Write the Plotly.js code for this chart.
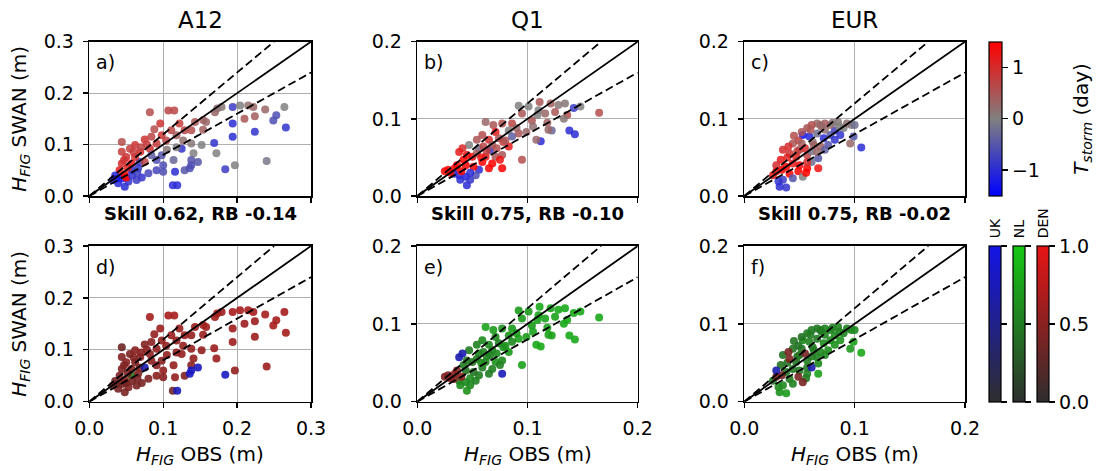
<!DOCTYPE html>
<html><head><meta charset="utf-8">
<script src="https://cdn.plot.ly/plotly-3.0.1.min.js"></script>
<style>body{margin:0;background:#fff}#chart{width:1099px;height:471px}</style>
</head><body><div id="chart"></div>
<script>
// ---------------- DATA ----------------
const stationNames = ['A12', 'Q1', 'EUR'];
const panelLabels = ['a)', 'b)', 'c)', 'd)', 'e)', 'f)'];
const skillTexts = ['Skill 0.62, RB -0.14', 'Skill 0.75, RB -0.10', 'Skill 0.75, RB -0.02'];
const axisLimits = [0.3, 0.2, 0.2];
const refSlopes = [1, 1.2, 0.8];
const sourceNames = ['NL', 'DEN', 'UK'];

// A12
const a12_x = [0.082,0.107,0.115,0.096,0.122,0.129,0.138,0.143,0.154,0.170,
  0.173,0.179,0.194,0.204,0.215,0.222,0.210,0.224,0.238,0.253,
  0.249,0.264,0.266,0.224,0.194,0.194,0.197,0.240,0.184,0.169,
  0.152,0.141,0.125,0.114,0.138,0.129,0.116,0.100,0.100,0.113,
  0.119,0.091,0.080,0.071,0.064,0.048,0.039,0.053,0.044,0.037,
  0.048,0.041,0.044,0.050,0.044,0.044,0.055,0.062,0.069,0.075,
  0.082,0.091,0.084,0.098,0.104,0.111,0.118,0.127,0.118,0.098,
  0.091,0.084,0.068,0.062,0.057,0.075,0.066,0.057,0.050,0.032,
  0.154,0.158,0.138,0.172,0.136,0.138,0.147,
  0.052,0.047,0.060,0.035,0.058,0.070,0.065,0.078,0.088,0.105];
const a12_y = [0.163,0.166,0.166,0.141,0.141,0.128,0.128,0.144,0.148,0.163,
  0.170,0.173,0.173,0.176,0.176,0.173,0.150,0.155,0.168,0.157,
  0.147,0.173,0.133,0.125,0.141,0.115,0.060,0.068,0.052,0.103,
  0.099,0.083,0.092,0.070,0.070,0.050,0.047,0.060,0.047,0.021,
  0.021,0.050,0.044,0.036,0.031,0.018,0.025,0.028,0.034,0.034,
  0.041,0.050,0.063,0.076,0.086,0.105,0.092,0.099,0.086,0.110,
  0.092,0.102,0.115,0.118,0.108,0.128,0.118,0.108,0.095,0.079,
  0.070,0.079,0.066,0.076,0.063,0.066,0.054,0.050,0.036,0.031,
  0.129,0.144,0.102,0.083,0.054,0.060,0.066,
  0.055,0.070,0.085,0.040,0.040,0.095,0.045,0.100,0.130,0.090];
const a12_T = [0.6,0.7,0.7,0.9,0.8,0.7,0.6,0.5,0.4,0.3,
  0.2,0.1,-0.8,0.0,0.2,0.3,0.5,0.4,0.3,-0.6,
  -0.6,0.0,-0.9,-0.9,-1.0,-1.0,0.0,-0.1,-0.8,-0.9,
  0.0,0.0,-0.9,-0.3,-0.5,-0.5,-1.0,-0.6,-0.6,-1.0,
  -1.0,-0.7,-0.7,-0.9,-0.8,-1.0,-1.0,-0.9,-1.2,-1.3,
  1.5,1.2,1.0,0.9,0.8,0.6,0.8,0.9,1.0,0.9,
  0.9,0.8,0.7,0.9,0.7,0.7,0.4,0.2,0.0,-0.5,
  -0.6,-0.4,-0.8,1.0,1.2,0.7,-0.9,-1.0,1.5,-1.0,
  0.4,0.3,0.1,0.0,-0.6,-0.6,-0.5,
  1.1,0.9,0.8,-1.1,-0.9,0.7,-0.8,0.8,0.6,0.1];
const a12_src = ['DEN','DEN','DEN','DEN','DEN','DEN','DEN','DEN','DEN','DEN',
  'DEN','DEN','DEN','DEN','DEN','DEN','DEN','DEN','DEN','DEN',
  'DEN','DEN','DEN','DEN','DEN','DEN','DEN','DEN','UK','DEN',
  'DEN','DEN','DEN','DEN','DEN','DEN','DEN','DEN','DEN','DEN',
  'UK','DEN','DEN','DEN','DEN','DEN','DEN','DEN','DEN','DEN',
  'DEN','DEN','DEN','DEN','DEN','DEN','DEN','DEN','DEN','DEN',
  'DEN','DEN','DEN','DEN','DEN','DEN','DEN','DEN','DEN','DEN',
  'DEN','DEN','DEN','DEN','DEN','UK','DEN','NL','DEN','DEN',
  'DEN','DEN','DEN','DEN','UK','UK','UK',
  'DEN','DEN','DEN','DEN','DEN','DEN','DEN','DEN','DEN','DEN'];
const a12_w = [0.65,0.65,0.65,0.6,0.6,0.6,0.55,0.6,0.65,0.65,
  0.65,0.6,0.65,0.65,0.65,0.65,0.6,0.6,0.65,0.65,
  0.65,0.65,0.65,0.6,0.6,0.6,0.55,0.6,0.8,0.6,
  0.55,0.55,0.55,0.55,0.5,0.45,0.55,0.55,0.5,0.35,
  0.75,0.5,0.45,0.4,0.4,0.4,0.4,0.45,0.4,0.35,
  0.5,0.45,0.45,0.5,0.45,0.35,0.45,0.5,0.5,0.45,
  0.5,0.55,0.5,0.55,0.55,0.6,0.55,0.55,0.55,0.5,
  0.5,0.5,0.45,0.45,0.45,0.7,0.45,0.5,0.4,0.4,
  0.6,0.6,0.55,0.6,0.8,0.8,0.8,
  0.4,0.45,0.45,0.35,0.4,0.5,0.4,0.5,0.55,0.55];

// Q1
const q1_x = [0.165,0.143,0.138,0.112,0.108,0.122,0.119,0.136,0.148,0.142,
  0.128,0.121,0.111,0.110,0.116,0.104,0.101,0.092,0.095,0.086,
  0.092,0.099,0.077,0.069,0.062,0.071,0.074,0.083,0.078,0.095,
  0.059,0.065,0.054,0.047,0.041,0.038,0.045,0.056,0.066,0.062,
  0.071,0.077,0.075,0.059,0.068,0.077,0.065,0.056,0.051,0.044,
  0.034,0.028,0.025,0.033,0.038,0.044,0.039,0.045,0.048,0.053,
  0.042,0.050,0.054,0.083,0.090,0.133,0.125,0.109,0.134,0.068,0.086,0.060,
  0.036,0.040,0.048,0.030,0.058,0.063,0.072,0.080,0.105,0.118];
const q1_y = [0.108,0.080,0.085,0.071,0.073,0.085,0.086,0.105,0.116,0.114,
  0.118,0.120,0.122,0.111,0.107,0.098,0.116,0.117,0.107,0.094,
  0.081,0.083,0.094,0.092,0.096,0.083,0.075,0.064,0.070,0.047,
  0.079,0.073,0.073,0.066,0.062,0.057,0.053,0.062,0.060,0.051,
  0.051,0.053,0.047,0.044,0.042,0.036,0.036,0.034,0.038,0.040,
  0.036,0.034,0.032,0.029,0.027,0.025,0.021,0.014,0.021,0.027,
  0.047,0.051,0.055,0.085,0.088,0.100,0.109,0.105,0.120,0.066,0.077,0.064,
  0.040,0.032,0.030,0.030,0.050,0.058,0.062,0.072,0.090,0.095];
const q1_T = [0.6,-1.0,-1.0,-1.0,0.3,-0.3,0.3,0.6,0.0,-0.8,
  0.1,0.4,0.5,0.0,0.3,0.5,0.0,0.0,0.5,0.7,
  0.5,0.3,0.6,0.5,0.3,1.2,0.5,1.2,0.8,0.6,
  0.6,1.0,0.5,0.0,1.0,1.2,1.3,-0.2,-0.9,1.2,
  0.5,0.5,1.3,1.5,1.5,1.5,1.5,-1.0,1.5,1.5,
  1.4,1.3,1.5,-1.0,-1.0,-1.1,-1.0,-1.0,-0.9,-0.6,
  1.5,1.4,0.4,0.0,0.3,0.1,0.5,0.0,0.1,0.4,-0.4,0.7,
  1.5,1.5,-1.0,1.4,1.3,0.8,0.6,0.5,0.2,0.4];
const q1_src = ['NL','NL','NL','NL','NL','NL','NL','NL','NL','NL',
  'NL','NL','NL','NL','NL','NL','NL','NL','NL','NL',
  'NL','NL','NL','NL','NL','NL','NL','NL','NL','NL',
  'NL','NL','NL','NL','UK','UK','NL','NL','NL','NL',
  'NL','NL','NL','NL','NL','UK','NL','NL','NL','NL',
  'DEN','DEN','DEN','DEN','NL','NL','NL','NL','NL','NL',
  'NL','NL','NL','NL','NL','NL','NL','NL','NL','NL','NL','NL',
  'DEN','DEN','NL','DEN','NL','NL','NL','NL','NL','NL'];
const q1_w = [0.8,0.8,0.8,0.8,0.8,0.75,0.75,0.8,0.8,0.8,
  0.8,0.75,0.8,0.75,0.75,0.7,0.7,0.7,0.7,0.7,
  0.75,0.7,0.65,0.7,0.75,0.6,0.55,0.7,0.65,0.75,
  0.6,0.6,0.55,0.5,0.7,0.7,0.5,0.55,0.5,0.6,
  0.65,0.6,0.55,0.5,0.55,0.75,0.5,0.5,0.45,0.45,
  0.5,0.5,0.45,0.5,0.55,0.6,0.6,0.65,0.6,0.55,
  0.5,0.5,0.5,0.65,0.7,0.8,0.75,0.75,0.8,0.55,0.6,0.55,
  0.5,0.5,0.6,0.5,0.6,0.55,0.6,0.65,0.75,0.75];

// EUR
const eur_x = [0.106,0.099,0.096,0.097,0.090,0.085,0.082,0.078,0.073,0.069,
  0.066,0.061,0.057,0.053,0.059,0.066,0.072,0.078,0.082,0.076,
  0.069,0.062,0.049,0.044,0.040,0.035,0.041,0.050,0.057,0.067,
  0.061,0.067,0.057,0.050,0.044,0.038,0.034,0.029,0.026,0.041,
  0.049,0.053,0.044,0.035,0.031,0.032,0.038,0.073,0.087,0.093,
  0.100,0.052,0.055,0.061,0.047,0.033,0.029,0.073,0.066,0.057,
  0.045,0.052,0.039,0.060,0.070,0.080,0.086,0.056,0.048,0.063];
const eur_y = [0.063,0.077,0.068,0.092,0.088,0.096,0.085,0.092,0.094,0.092,
  0.094,0.092,0.088,0.079,0.077,0.081,0.075,0.079,0.073,0.066,
  0.064,0.070,0.072,0.068,0.064,0.060,0.055,0.060,0.053,0.049,
  0.044,0.036,0.036,0.040,0.042,0.038,0.034,0.032,0.027,0.029,
  0.032,0.025,0.023,0.021,0.019,0.012,0.011,0.086,0.079,0.094,
  0.092,0.068,0.062,0.058,0.051,0.047,0.040,0.060,0.057,0.044,
  0.078,0.083,0.050,0.086,0.090,0.095,0.090,0.030,0.058,0.066];
const eur_T = [-1.0,-0.5,0.3,0.0,0.0,0.1,-0.8,0.3,0.4,0.2,
  0.3,0.6,0.5,-1.3,-1.1,-0.2,-1.0,-0.5,-0.9,-0.5,
  0.4,0.1,0.7,0.5,1.0,1.0,0.9,0.5,0.7,-0.5,
  -0.2,1.3,1.5,1.4,1.2,1.5,1.5,1.3,1.2,1.5,
  1.5,0.0,-0.5,-0.8,-0.9,-1.0,-0.9,0.2,-0.9,0.2,
  -0.2,0.4,1.0,-0.1,1.1,1.2,1.0,-0.4,0.3,1.0,
  0.6,0.5,1.1,0.5,0.3,0.1,0.0,1.5,0.8,0.4];
const eur_src = ['NL','NL','NL','NL','NL','NL','NL','NL','NL','NL',
  'NL','NL','NL','NL','NL','NL','NL','NL','NL','NL',
  'NL','NL','NL','NL','DEN','NL','DEN','NL','NL','NL',
  'UK','NL','NL','NL','NL','NL','DEN','DEN','NL','NL',
  'DEN','DEN','NL','NL','NL','NL','NL','NL','NL','NL',
  'NL','NL','DEN','NL','NL','NL','UK','NL','NL','NL',
  'NL','NL','NL','NL','NL','NL','NL','NL','NL','NL'];
const eur_w = [0.8,0.75,0.7,0.6,0.55,0.55,0.6,0.55,0.55,0.5,
  0.5,0.5,0.5,0.6,0.55,0.5,0.6,0.6,0.65,0.6,
  0.6,0.5,0.45,0.45,0.4,0.45,0.45,0.5,0.5,0.6,
  0.7,0.75,0.55,0.5,0.45,0.45,0.4,0.4,0.45,0.5,
  0.4,0.4,0.55,0.6,0.6,0.65,0.7,0.55,0.65,0.55,
  0.6,0.45,0.4,0.5,0.45,0.45,0.7,0.6,0.55,0.5,
  0.45,0.45,0.45,0.5,0.5,0.55,0.55,0.5,0.45,0.5];

// ---------------- STYLE ----------------
const FONT = 'DejaVu Sans, sans-serif';
const TICK = 19, LAB = 20;
const stations = [
  {x: a12_x, y: a12_y, T: a12_T, src: a12_src, w: a12_w},
  {x: q1_x, y: q1_y, T: q1_T, src: q1_src, w: q1_w},
  {x: eur_x, y: eur_y, T: eur_T, src: eur_src, w: eur_w}
];
const tScale = [[0, '#0000ff'], [0.5, '#808080'], [1, '#ff0000']];
const srcScales = {
  UK: [[0, '#2e2e2e'], [1, '#1414e6']],
  NL: [[0, '#2e2e2e'], [1, '#14c814']],
  DEN: [[0, '#2e2e2e'], [1, '#e61414']]
};
const W = 1099, H = 471;
const xDom = [[89.3, 311], [417.3, 637.7], [744.3, 965]];
const yDom = [[41.7, 196], [246, 401.7]];
const cbX = {UK: 989.3, NL: 1013.3, DEN: 1037.3};

function fx(px) { return px / W; }
function fy(py) { return 1 - py / H; }

const traces = [];
const layout = {
  width: W, height: H, margin: {l: 0, r: 0, t: 0, b: 0},
  paper_bgcolor: '#fff', plot_bgcolor: '#fff', showlegend: false,
  font: {family: FONT, size: TICK, color: '#000'},
  annotations: []
};

function axisId(k) { return k === 0 ? '' : String(k + 1); }

for (let row = 0; row < 2; row++) {
  for (let i = 0; i < 3; i++) {
    const k = row * 3 + i;
    const id = axisId(k);
    const lim = axisLimits[i];
    const tv = [];
    for (let t = 0; t <= lim + 1e-9; t += 0.1) tv.push(Math.round(t * 10) / 10);
    const tt = tv.map(v => v.toFixed(1));
    const common = {
      range: [0, lim], tickvals: tv, ticktext: tt,
      showline: true, mirror: true, linecolor: '#000', linewidth: 1.6,
      ticks: 'outside', ticklen: 5, tickwidth: 1.4, tickcolor: '#000',
      showgrid: true, gridcolor: '#b0b0b0', gridwidth: 1.2, zeroline: false,
      tickfont: {family: FONT, size: TICK, color: '#000'}, fixedrange: true
    };
    layout['xaxis' + id] = Object.assign({}, common, {
      domain: [fx(xDom[i][0]), fx(xDom[i][1])], anchor: 'y' + id,
      showticklabels: row === 1, ticklabelstandoff: 4
    });
    layout['yaxis' + id] = Object.assign({}, common, {
      domain: [fy(yDom[row][1]), fy(yDom[row][0])], anchor: 'x' + id,
      ticklabelstandoff: 5
    });

    const st = stations[i];
    if (row === 0) {
      traces.push({
        type: 'scatter', mode: 'markers', x: st.x, y: st.y,
        xaxis: 'x' + id, yaxis: 'y' + id, hoverinfo: 'skip',
        marker: {
          size: 8, color: st.T, colorscale: tScale, cmin: -1.5, cmax: 1.5,
          opacity: 0.85, line: {width: 0},
          showscale: i === 0,
          colorbar: {
            x: fx(cbX.UK), xanchor: 'left', xpad: 0, ypad: 0,
            y: fy(yDom[0][0]), yanchor: 'top', len: (yDom[0][1] - yDom[0][0]) / H, lenmode: 'fraction',
            thickness: 12.5, thicknessmode: 'pixels', outlinewidth: 1.2, outlinecolor: '#000',
            ticks: 'outside', ticklen: 6, tickwidth: 1.4, tickcolor: '#000',
            tickvals: [-1, 0, 1], ticktext: ['\u22121', '0', '1'],
            tickfont: {family: FONT, size: TICK}
          }
        }
      });
    } else {
      sourceNames.forEach(s => {
        const xs = [], ys = [], ws = [];
        st.src.forEach((v, j) => { if (v === s) { xs.push(st.x[j]); ys.push(st.y[j]); ws.push(st.w[j]); } });
        const showCb = i === 2;
        traces.push({
          type: 'scatter', mode: 'markers', x: xs, y: ys,
          xaxis: 'x' + id, yaxis: 'y' + id, hoverinfo: 'skip',
          marker: {
            size: 8, color: ws, colorscale: srcScales[s], cmin: 0, cmax: 1,
            opacity: 0.9, line: {width: 0},
            showscale: showCb,
            colorbar: {
              x: fx(cbX[s]), xanchor: 'left', xpad: 0, ypad: 0,
              y: fy(yDom[1][0]), yanchor: 'top', len: (yDom[1][1] - yDom[1][0]) / H, lenmode: 'fraction',
              thickness: 12, thicknessmode: 'pixels', outlinewidth: 1.2, outlinecolor: '#000',
              ticks: 'outside', ticklen: 6, tickwidth: 1.4, tickcolor: '#000',
              tickvals: [0, 0.5, 1], ticktext: ['0.0', '0.5', '1.0'],
              showticklabels: s === 'DEN',
              tickfont: {family: FONT, size: TICK}
            }
          }
        });
      });
    }
    // reference lines
    refSlopes.forEach(sl => {
      const xe = Math.min(lim, lim / sl);
      traces.push({
        type: 'scatter', mode: 'lines', x: [0, xe], y: [0, xe * sl],
        xaxis: 'x' + id, yaxis: 'y' + id, hoverinfo: 'skip', cliponaxis: true,
        line: {color: '#000', width: 1.8, dash: sl === 1 ? 'solid' : '8px,4px'}
      });
    });

    // panel label
    layout.annotations.push({
      xref: 'x' + id + ' domain', yref: 'y' + id + ' domain', x: 0.02, y: 0.95,
      xanchor: 'left', yanchor: 'top', showarrow: false, text: panelLabels[k],
      font: {family: FONT, size: TICK}
    });
    if (row === 0) {
      layout.annotations.push({
        xref: 'x' + id + ' domain', yref: 'y' + id + ' domain', x: 0.5, y: 1 + (yDom[0][0] - 20) / (yDom[0][1] - yDom[0][0]),
        xanchor: 'center', yanchor: 'middle', showarrow: false, text: stationNames[i],
        font: {family: FONT, size: 23}
      });
      layout.annotations.push({
        xref: 'x' + id + ' domain', yref: 'y' + id + ' domain', x: 0.5, y: -(213 - yDom[0][1]) / (yDom[0][1] - yDom[0][0]),
        xanchor: 'center', yanchor: 'middle', showarrow: false, text: '<b>' + skillTexts[i] + '</b>',
        font: {family: FONT, size: 18}
      });
    } else {
      layout.annotations.push({
        xref: 'x' + id + ' domain', yref: 'y' + id + ' domain', x: 0.5, y: -(455 - yDom[1][1]) / (yDom[1][1] - yDom[1][0]),
        xanchor: 'center', yanchor: 'middle', showarrow: false, text: '<i>H<sub>FIG</sub></i> OBS (m)',
        font: {family: FONT, size: LAB}
      });
    }
    if (i === 0) {
      layout.annotations.push({
        xref: 'paper', yref: 'y' + id + ' domain', x: fx(20), y: 0.5,
        xanchor: 'center', yanchor: 'middle', showarrow: false, textangle: -90,
        text: '<i>H<sub>FIG</sub></i> SWAN (m)', font: {family: FONT, size: LAB}
      });
    }
  }
}
// colorbar title for T_storm
layout.annotations.push({
  xref: 'paper', yref: 'paper', x: fx(1082), y: fy((yDom[0][0] + yDom[0][1]) / 2),
  xanchor: 'center', yanchor: 'middle', showarrow: false, textangle: -90,
  text: '<i>T<sub>storm</sub></i> (day)', font: {family: FONT, size: LAB}
});
// source labels above the lower colorbars
['UK', 'NL', 'DEN'].forEach(s => {
  layout.annotations.push({
    xref: 'paper', yref: 'paper', x: fx(cbX[s] + 6), y: fy(240),
    xanchor: 'center', yanchor: 'bottom', showarrow: false, textangle: -90,
    text: s, font: {family: FONT, size: 14}
  });
});

Plotly.newPlot('chart', traces, layout, {staticPlot: true, displayModeBar: false});
</script>
</body></html>
